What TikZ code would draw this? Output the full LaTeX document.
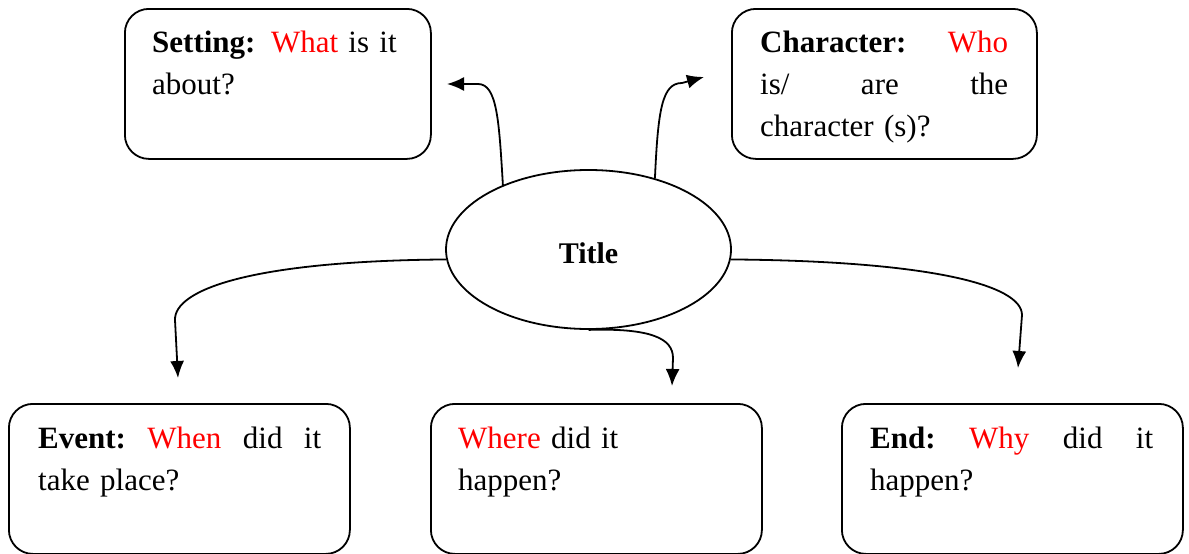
\documentclass[tikz,border=0pt]{standalone}
\usepackage{fontspec}
\setmainfont{Liberation Serif}
\usetikzlibrary{shapes.geometric,arrows.meta}
\definecolor{qred}{RGB}{255,0,0}
\tikzset{
  box/.style={draw, line width=1.8pt, rounded corners=24pt, anchor=north west, inner sep=0pt},
  txt/.style={anchor=north west, inner sep=0pt, align=left, font=\fontsize{31}{42}\selectfont},
  conn/.style={line width=1.8pt, -{Latex[length=17pt,width=14pt]}},
}
\newcommand{\q}[1]{\textcolor{qred}{#1}}
\begin{document}
\begin{tikzpicture}[x=1pt,y=-1pt]
\useasboundingbox (0,0) rectangle (1189,554);
% boxes
\node[box, minimum width=306pt, minimum height=150pt] (setting) at (124,8) {};
\node[box, minimum width=305pt, minimum height=150pt] (character) at (731,8) {};
\node[box, minimum width=341pt, minimum height=150pt] (event) at (8,403) {};
\node[box, minimum width=331pt, minimum height=150pt] (where) at (430,403) {};
\node[box, minimum width=341pt, minimum height=150pt] (end) at (841,403) {};
% texts
\node[txt, text width=250pt] (settingtxt) at (152,31) {\textbf{Setting:} \q{What} is it\\about?};
\node[txt, text width=248pt] (charactertxt) at (760,31) {\textbf{Character:}\hfill\q{Who}\\is/\hfill are\hfill the\\character (s)?};
\node[txt, text width=283pt] (eventtxt) at (38,427) {\textbf{Event:}\hfill\q{When}\hfill did\hfill it\\take place?};
\node[txt, text width=275pt] (wheretxt) at (458,427) {\q{Where} did it\\happen?};
\node[txt, text width=283pt] (endtxt) at (870,427) {\textbf{End:}\hfill\q{Why}\hfill did\hfill it\\happen?};
% ellipse
\node[draw, ellipse, line width=1.8pt, minimum width=285pt, minimum height=159pt, inner sep=0pt,
      text height=27pt, text depth=0pt,
      font=\fontsize{30}{36}\selectfont\bfseries] (title) at (588.5,249.5) {Title};
% arrow tips
\coordinate (settingtip) at (447,84);
\coordinate (charactertip) at (704,77);
\coordinate (wheretip) at (672,386);
\coordinate (eventtip) at (178,378);
\coordinate (endtip) at (1018,368);
% connectors
\draw[conn] (title.143.7) .. controls (499,120) and (497,84) .. (478,84) -- (settingtip);
\draw[conn] (title.47) .. controls (658,110) and (662,83) .. (682,83) -- (charactertip);
\draw[conn] (title.south) .. controls (650,328) and (673,338) .. (673,358) -- (wheretip);
\draw[conn] (title.184) .. controls (250,261) and (174,290) .. (175,320) -- (eventtip);
\draw[conn] (title.-4) .. controls (930,261) and (1022,285) .. (1022,315) -- (endtip);
\end{tikzpicture}
\end{document}
